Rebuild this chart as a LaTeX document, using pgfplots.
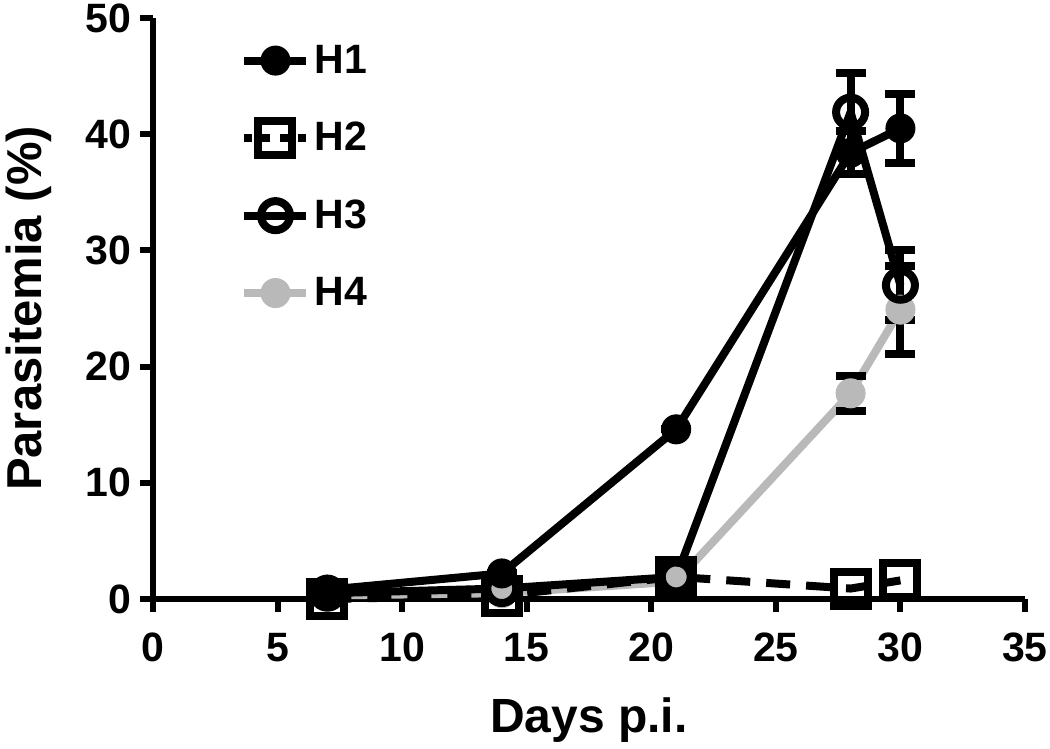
\documentclass[border=0pt]{standalone}
\usepackage{pgfplots}
\pgfplotsset{compat=1.18}
\usepackage{fontspec}
\setmainfont{Liberation Sans}
\definecolor{grayH}{RGB}{185,185,185}
\begin{document}
\begin{tikzpicture}
\begin{axis}[
  name=ax,
  scale only axis,
  width=436pt, height=290.5pt,
  xmin=0, xmax=35, ymin=0, ymax=50,
  xtick={0,5,...,35}, ytick={0,10,...,50},
  axis x line*=bottom, axis y line*=left,
  axis line style={line width=3pt, -},
  tick style={line width=3pt, black},
  tick align=outside, major tick length=6.5pt,
  /pgf/number format/assume math mode=true,
  tick label style={font=\fontsize{20.5}{22}\selectfont\bfseries},
  xticklabel style={yshift=-7pt},
  yticklabel style={xshift=-1pt},
  xlabel={Days p.i.}, ylabel={Parasitemia (\%)},
  every axis x label/.style={at={(rel axis cs:0.5,-0.229)}, anchor=base, font=\fontsize{24}{26}\selectfont\bfseries},
  every axis y label/.style={at={(rel axis cs:-0.142,0.5)}, anchor=center, rotate=90, font=\fontsize{24.5}{26}\selectfont\bfseries},
  clip=false,
  legend style={at={(0.093,0.968)}, anchor=north west, draw=none, fill=none,
    font=\fontsize{20.5}{22}\selectfont\bfseries, row sep=19pt,
    /tikz/every even column/.append style={column sep=3pt}},
  legend cell align=left,
  legend image code/.code={
    \draw[#1] (0pt,0pt) -- (31pt,0pt);
    \draw[#1, solid] plot coordinates {(15.5pt,0pt)};
  },
  error bars/y dir=both, error bars/y explicit,
  error bars/error bar style={line width=4pt, black, solid},
  error bars/error mark options={rotate=90, mark size=7.5pt, line width=4pt, black, solid},
]
\addlegendimage{black, line width=4pt, mark=*, mark size=7.25pt, mark options={line width=0.5pt}}
\addlegendentry{H1}
\addlegendimage{black, line width=4pt, dash pattern=on 4pt off 5pt, dash phase=0pt, mark=square, mark size=8.5pt, mark options={fill=white, solid, line width=4pt}}
\addlegendentry{H2}
\addlegendimage{black, line width=4pt, mark=o, mark size=7.25pt, mark options={fill=white, line width=4pt}}
\addlegendentry{H3}
\addlegendimage{grayH, line width=4pt, mark=*, mark size=7.25pt, mark options={line width=0.5pt}}
\addlegendentry{H4}

% H4
\addplot[grayH, line width=4pt, mark=*, mark size=7.25pt, mark options={line width=0.5pt}, forget plot]
 table[y error=e] {
 x y e
 7 0.3 0
 14 0.5 0
 21 1.5 0
 28 17.7 1.5
 30 24.9 3.8
 };
% H1
\addplot[black, line width=4pt, mark=*, mark size=7.25pt, mark options={line width=0.5pt}, forget plot]
 table[y error=e] {
 x y e
 7 0.8 0
 14 2.2 0
 21 14.6 0
 28 38.4 1.85
 30 40.5 3.0
 };
% H2
\addplot[black, line width=4pt, dash pattern=on 12pt off 8pt, mark=square, mark size=8.5pt, mark options={fill=white, solid, line width=4pt}, forget plot]
 table {
 x y
 7 0.0
 14 0.3
 21 1.9
 28 0.9
 30 1.6
 };
% H3
\addplot[black, line width=4pt, mark=o, mark size=7.25pt, mark options={fill=white, line width=4pt}, forget plot]
 table[y error=e] {
 x y e
 7 0.5 0
 14 0.9 0
 21 1.9 0
 28 41.9 3.4
 30 27.0 3.0
 };
\end{axis}
\pgfresetboundingbox
\path[use as bounding box] ([xshift=-76.5pt,yshift=-75pt]ax.south west) rectangle ([xshift=12.5pt,yshift=9pt]ax.north east);
\end{tikzpicture}
\end{document}
